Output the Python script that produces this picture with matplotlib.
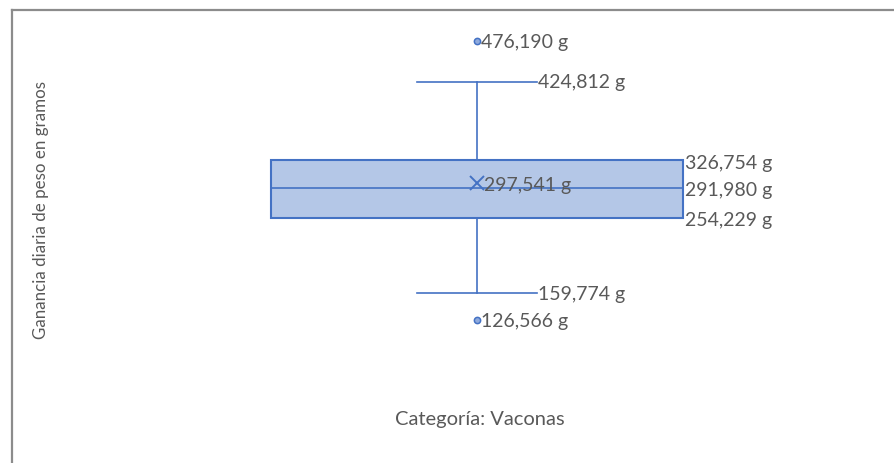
import matplotlib
matplotlib.use("Agg")
import matplotlib.pyplot as plt
from matplotlib.lines import Line2D

# ---- data ----
category = "Categoría: Vaconas"
y_title = "Ganancia diaria de peso en gramos"
q1 = 254.229
median = 291.980
q3 = 326.754
mean = 297.541
whisker_low = 159.774
whisker_high = 424.812
outliers = [476.190, 126.566]

def fmt_g(v):
    s = f"{v:.3f}".replace(".", ",")
    return s + " g"

W, H = 894, 463
fig = plt.figure(figsize=(W / 100, H / 100), dpi=100)
fig.patch.set_facecolor("white")

FONT = ["Lato", "DejaVu Sans"]
TXT = "#595959"
EDGE = "#4472C4"
FILL = "#B4C7E7"

ax_left, ax_right = 12, 894
ax_top, ax_bot = 21.7, 420.9
ax = fig.add_axes([ax_left / W, 1 - ax_bot / H, (ax_right - ax_left) / W, (ax_bot - ax_top) / H])
unit = 824.0
center_px = 477
ax.set_xlim(1 - (center_px - ax_left) / unit, 1 + (ax_right - center_px) / unit)
ax.set_ylim(0, 500)
ax.axis("off")

stats = [dict(med=median, q1=q1, q3=q3, whislo=whisker_low, whishi=whisker_high,
              mean=mean, fliers=outliers, label=category)]
box_w = 0.5
cap_w = 120 / unit
ax.bxp(stats, positions=[1], widths=box_w, capwidths=cap_w, patch_artist=True,
       showmeans=True, meanline=False,
       boxprops=dict(facecolor=FILL, edgecolor=EDGE, linewidth=1.5),
       medianprops=dict(color=EDGE, linewidth=1.2),
       whiskerprops=dict(color=EDGE, linewidth=1.2),
       capprops=dict(color=EDGE, linewidth=1.2),
       flierprops=dict(marker="o", markersize=4.5, markerfacecolor="#8FAADC",
                       markeredgecolor=EDGE, markeredgewidth=1.1),
       meanprops=dict(marker="x", markersize=10, markeredgecolor=EDGE,
                      markeredgewidth=1.4))

fs = 14.0
def lab(x, y, text, dx, dy=-2):
    ax.annotate(text, xy=(x, y), xytext=(dx, dy), textcoords="offset pixels",
                ha="left", va="center", fontsize=fs, color=TXT, family=FONT)

for v in outliers:
    lab(1, v, fmt_g(v), 4)
for v in (whisker_high, whisker_low):
    lab(1 + cap_w / 2, v, fmt_g(v), 1, -1)
for v in (q3, median, q1):
    lab(1 + box_w / 2, v, fmt_g(v), 2, -3)
lab(1, mean, fmt_g(mean), 7)

fig.text(41 / W, 1 - 210 / H, y_title, rotation=90, ha="center", va="center",
         fontsize=12.2, color=TXT, family=FONT)
fig.text(480 / W, 1 - 419 / H, category, ha="center", va="center",
         fontsize=14.5, color=TXT, family=FONT)

# outer chart frame (top and left visible)
fig.add_artist(Line2D([12 / W, 1], [1 - 10 / H, 1 - 10 / H], color="#8C8C8C", linewidth=1.6))
fig.add_artist(Line2D([12 / W, 12 / W], [0, 1 - 10 / H], color="#8C8C8C", linewidth=1.6))

fig.savefig("out.png", dpi=100)
